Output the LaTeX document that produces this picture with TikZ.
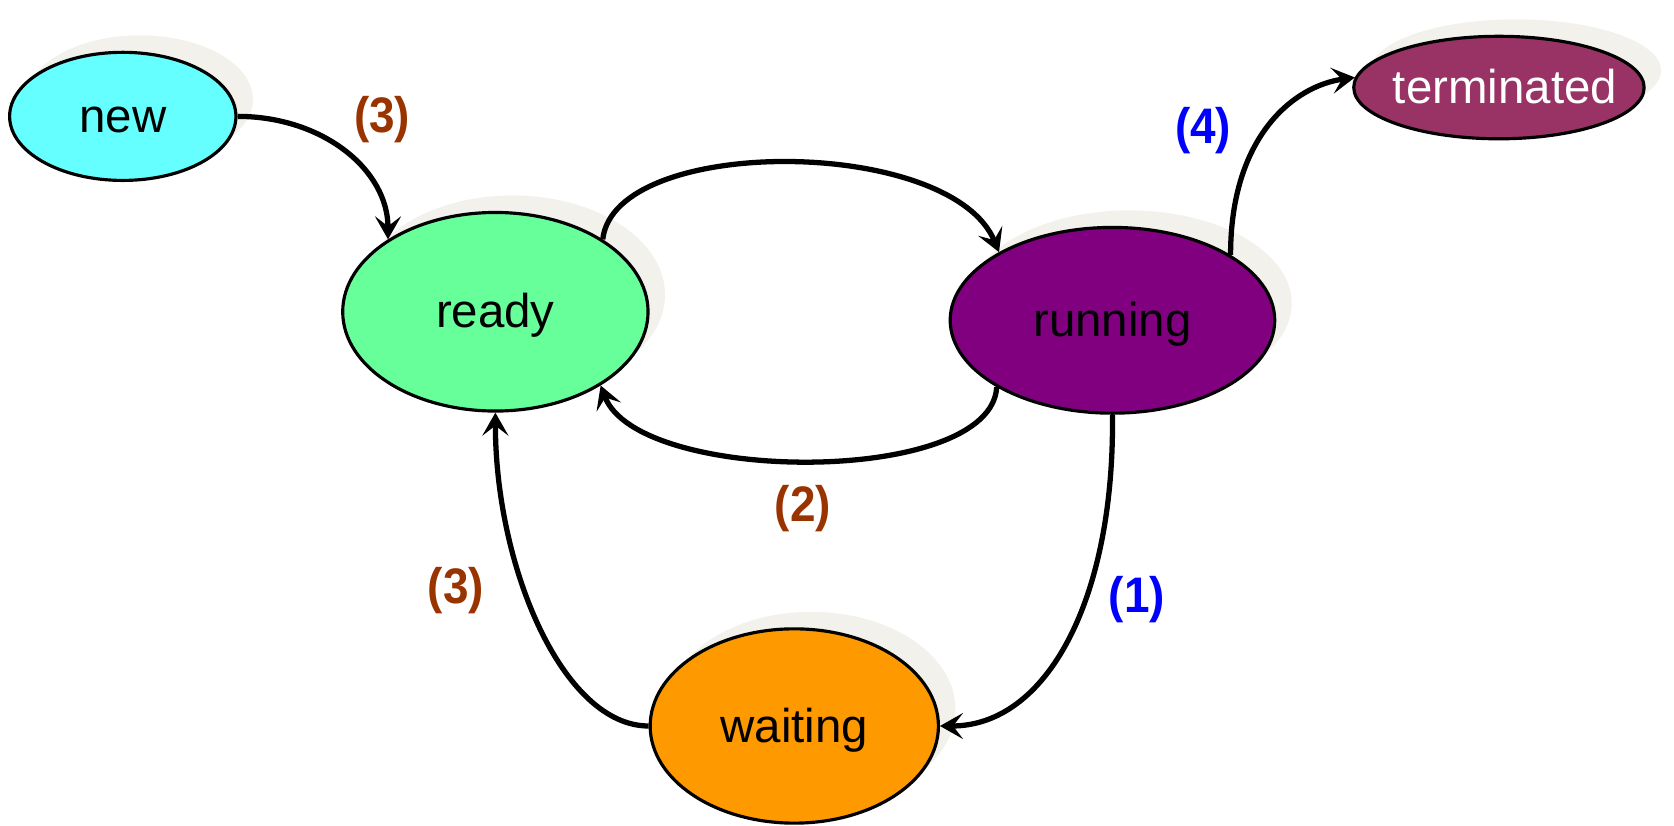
\documentclass[tikz,border=0pt]{standalone}
\usepackage{fontspec}
\setmainfont{Liberation Sans}
\newfontfamily\lblfont[FakeStretch=0.92]{Liberation Sans}
\usetikzlibrary{shapes.geometric,arrows.meta,shadows}
\definecolor{shadowc}{RGB}{242,241,236}
\definecolor{cnew}{HTML}{66FFFF}
\definecolor{cready}{HTML}{66FF99}
\definecolor{crun}{HTML}{800080}
\definecolor{cterm}{HTML}{993366}
\definecolor{cwait}{HTML}{FF9900}
\definecolor{cbrown}{HTML}{993300}
\definecolor{cblue}{HTML}{0000FF}
\tikzset{
  state/.style n args={3}{ellipse, draw=black, line width=0.9pt, fill=#1, inner sep=0pt,
    minimum width={#2*0.10676mm}, minimum height={#3*0.10676mm},
    text height=0.92em, text depth=0pt,
    general shadow={shadow xshift=1.7mm, shadow yshift=1.7mm, fill=shadowc},
    font=\fontsize{13.5}{16}\selectfont},
  edge/.style={line width=1.5pt, -{Stealth[length=2.3mm, width=2.6mm, inset=1mm]}},
  lbl/.style={font=\lblfont\bfseries\fontsize{14.2}{17}\selectfont, text=#1}
}
\begin{document}
\begin{tikzpicture}[x=0.10676mm, y=-0.10676mm]
\useasboundingbox (0,0) rectangle (1568,773);
\node[state={cnew}{212}{120}] (new) at (115,109) {\makebox[0pt]{new}};
\node[state={cready}{286}{186}] (ready) at (464,292) {\makebox[0pt]{ready}};
\node[state={crun}{304}{174}] (running) at (1042,300) {\makebox[0pt]{running}};
\node[state={cterm}{272}{96}] (term) at (1404,82) {\makebox[0pt]{\kern1.2mm\color{white}terminated}};
\node[state={cwait}{270}{182}] (wait) at (744,680) {\makebox[0pt]{waiting}};

\draw[edge] (new.east) .. controls +(80,0) and +(0,-65) .. (ready.146);
\draw[edge] (ready.34) .. controls +(11,-98) and +(-45,-109) .. (running.149);
\draw[edge] (running.210) .. controls +(-5,93) and +(35,93) .. (ready.325);
\draw[edge] (running.south) .. controls +(2,173) and +(100,0) .. (wait.east);
\draw[edge] (wait.west) .. controls +(-80,0) and +(0,145) .. (ready.south);
\draw[edge] (running.29) .. controls +(0,-110) and +(-58,8) .. (term.176);

\node[lbl=cbrown] (l1) at (358,112) {(3)};
\node[lbl=cbrown] (l2) at (752,476) {(2)};
\node[lbl=cbrown] (l3) at (427,553) {(3)};
\node[lbl=cblue] (l4) at (1065,562) {(1)};
\node[lbl=cblue] (l5) at (1127,122) {(4)};
\end{tikzpicture}
\end{document}
